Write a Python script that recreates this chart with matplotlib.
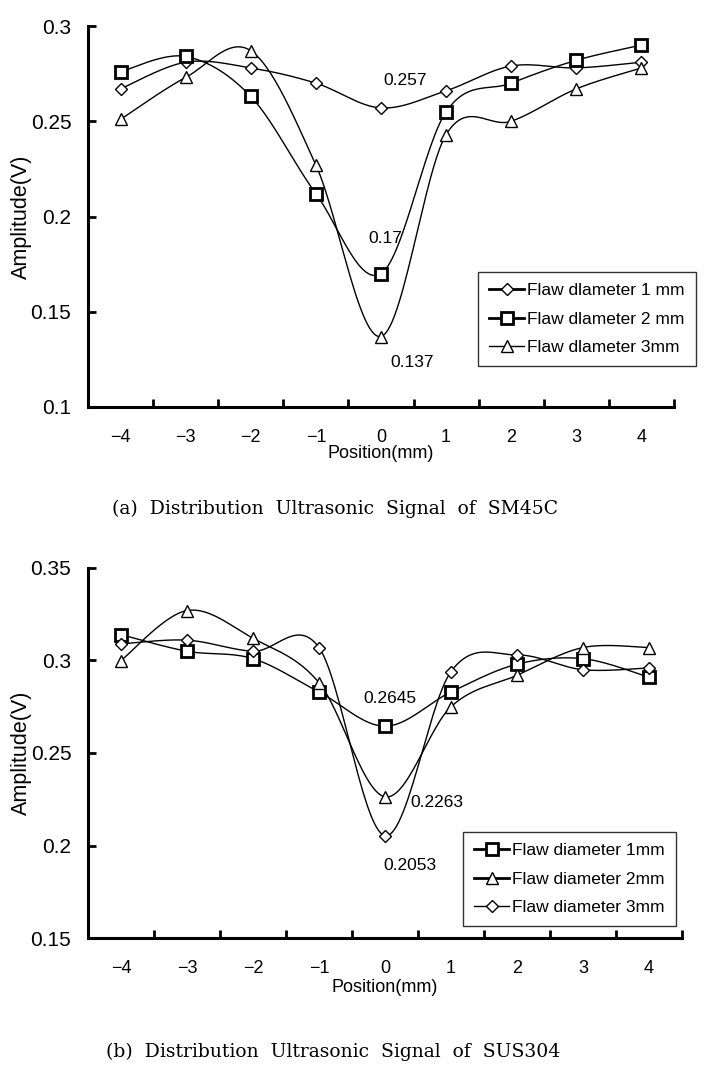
import matplotlib
matplotlib.use("Agg")
import matplotlib.pyplot as plt
import matplotlib.ticker as ticker
import numpy as np

plt.rcParams['font.family'] = ['Liberation Sans', 'DejaVu Sans']

positions = [-4, -3, -2, -1, 0, 1, 2, 3, 4]

# (a) SM45C
sm45c_1mm = [0.267, 0.281, 0.278, 0.270, 0.257, 0.266, 0.279, 0.278, 0.281]
sm45c_2mm = [0.276, 0.284, 0.263, 0.212, 0.170, 0.255, 0.270, 0.282, 0.290]
sm45c_3mm = [0.251, 0.273, 0.287, 0.227, 0.137, 0.243, 0.250, 0.267, 0.278]

# (b) SUS304
sus304_1mm = [0.314, 0.305, 0.301, 0.283, 0.2645, 0.283, 0.298, 0.301, 0.291]
sus304_2mm = [0.300, 0.327, 0.312, 0.288, 0.2263, 0.275, 0.292, 0.307, 0.307]
sus304_3mm = [0.309, 0.311, 0.305, 0.307, 0.2053, 0.294, 0.303, 0.295, 0.296]


def smooth(x, y, n=30):
    # excel style smoothed line (catmull-rom bezier between the points)
    x = np.asarray(x, float)
    y = np.asarray(y, float)
    xs, ys = [], []
    for i in range(len(x) - 1):
        i0 = max(i - 1, 0)
        i3 = min(i + 2, len(x) - 1)
        c1x, c1y = x[i] + (x[i+1] - x[i0]) / 6, y[i] + (y[i+1] - y[i0]) / 6
        c2x, c2y = x[i+1] - (x[i3] - x[i]) / 6, y[i+1] - (y[i3] - y[i]) / 6
        t = np.linspace(0, 1, n)
        bx = (1-t)**3*x[i] + 3*(1-t)**2*t*c1x + 3*(1-t)*t**2*c2x + t**3*x[i+1]
        by = (1-t)**3*y[i] + 3*(1-t)**2*t*c1y + 3*(1-t)*t**2*c2y + t**3*y[i+1]
        xs.append(bx)
        ys.append(by)
    return np.concatenate(xs), np.concatenate(ys)


styles = {
    'D': dict(marker='D', markersize=6.5, mew=1.0),
    's': dict(marker='s', markersize=9, mew=2.0),
    '^': dict(marker='^', markersize=9, mew=1.0),
}


def draw_series(ax, y, m, label, leg_lw):
    sx, sy = smooth(positions, y)
    ax.plot(sx, sy, color='black', lw=1.0, zorder=2)
    ax.plot(positions, y, ls='none', color='black', mfc='white', zorder=3, **styles[m])
    # handle for legend
    return ax.plot([], [], color='black', lw=leg_lw, mfc='white', label=label, **styles[m])[0]


def style_axes(ax, ymin, ymax):
    ax.set_xlim(-4.5, 4.5)
    ax.set_ylim(ymin, ymax)
    for s in ['top', 'right']:
        ax.spines[s].set_visible(False)
    for s in ['left', 'bottom']:
        ax.spines[s].set_linewidth(2.2)
    ax.xaxis.set_major_locator(ticker.FixedLocator(positions))
    ax.xaxis.set_minor_locator(ticker.FixedLocator(np.arange(-3.5, 4.6, 1.0)))
    ax.set_xticklabels(['\u2212%d' % -p if p < 0 else str(p) for p in positions])
    ax.tick_params(axis='x', which='major', length=0, pad=16, labelsize=13)
    ax.tick_params(axis='x', which='minor', length=6, width=2, direction='in')
    ax.yaxis.set_major_locator(ticker.MultipleLocator(0.05))
    ax.yaxis.set_major_formatter(ticker.FuncFormatter(lambda v, p: '%g' % round(v, 3)))
    ax.tick_params(axis='y', length=6, width=2, direction='in', pad=12, labelsize=15)
    ax.set_xlabel('Position(mm)', fontsize=13)
    ax.set_ylabel('Amplitude(V)', fontsize=15.5)
    ax.xaxis.label.set_va('center')
    ax.yaxis.label.set_va('center')


def add_legend(ax, handles, x0, y0):
    leg = ax.legend(handles=handles, loc='upper left',
                    bbox_to_anchor=(x0/714, 1-y0/1071), bbox_transform=fig.transFigure,
                    fontsize=12.5, frameon=True, fancybox=False, edgecolor='black',
                    handlelength=2.0, handletextpad=0.2, labelspacing=0.75,
                    borderpad=0.65, borderaxespad=0)
    leg.get_frame().set_linewidth(1.0)
    return leg


fig = plt.figure(figsize=(7.14, 10.71), dpi=100)

# ---- (a) ----
ax1 = fig.add_axes([88/714, 1-407/1071, 586/714, 381/1071])
style_axes(ax1, 0.1, 0.3)
h1 = draw_series(ax1, sm45c_1mm, 'D', 'Flaw dlameter 1 mm', 2.0)
h2 = draw_series(ax1, sm45c_2mm, 's', 'Flaw dlameter 2 mm', 2.0)
h3 = draw_series(ax1, sm45c_3mm, '^', 'Flaw dlameter 3mm', 1.0)
ax1.xaxis.set_label_coords(0.5, -46/381)
ax1.yaxis.set_label_coords(-67/586, 0.5)
ax1.text(0.03, 0.269, '0.257', fontsize=12.5)
ax1.text(-0.2, 0.186, '0.17', fontsize=12.5)
ax1.text(0.14, 0.121, '0.137', fontsize=12.5)
add_legend(ax1, [h1, h2, h3], 478, 272)

# ---- (b) ----
ax2 = fig.add_axes([88/714, 1-938/1071, 594/714, 370/1071])
style_axes(ax2, 0.15, 0.35)
g1 = draw_series(ax2, sus304_1mm, 's', 'Flaw diameter 1mm', 2.0)
g2 = draw_series(ax2, sus304_2mm, '^', 'Flaw diameter 2mm', 2.0)
g3 = draw_series(ax2, sus304_3mm, 'D', 'Flaw diameter 3mm', 1.0)
ax2.xaxis.set_label_coords(0.5, -49/370)
ax2.yaxis.set_label_coords(-67/594, 0.5)
ax2.text(-0.33, 0.2772, '0.2645', fontsize=12.5)
ax2.text(0.39, 0.221, '0.2263', fontsize=12.5)
ax2.text(-0.02, 0.187, '0.2053', fontsize=12.5)
add_legend(ax2, [g1, g2, g3], 463, 832)

# captions
fig.text(335/714, 1-509/1071, '(a)  Distribution  Ultrasonic  Signal  of  SM45C',
         family='DejaVu Serif', fontsize=13.5, ha='center', va='center')
fig.text(333/714, 1-1052/1071, '(b)  Distribution  Ultrasonic  Signal  of  SUS304',
         family='DejaVu Serif', fontsize=13.5, ha='center', va='center')

fig.savefig('out.png', dpi=100, facecolor='white')
